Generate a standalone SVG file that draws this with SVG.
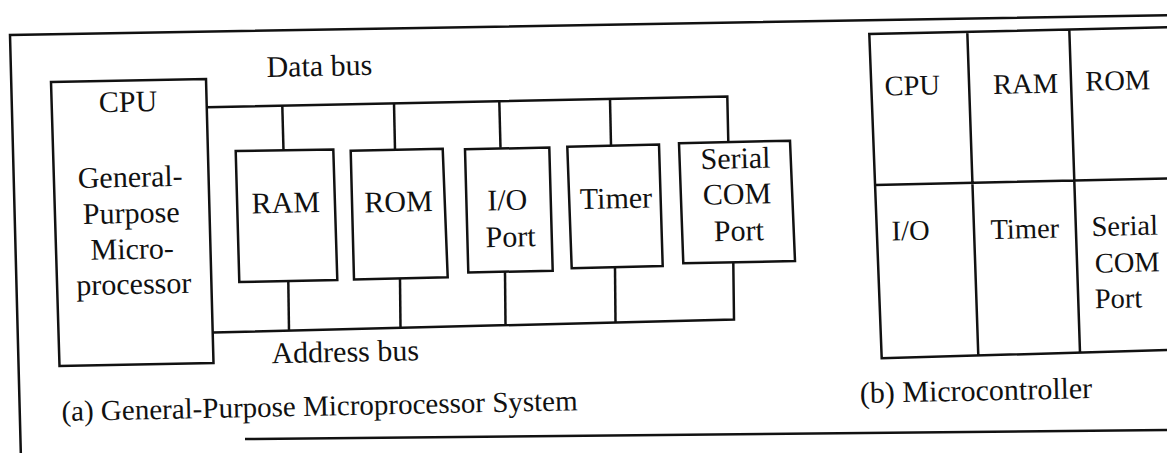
<svg xmlns="http://www.w3.org/2000/svg" width="1167" height="453" viewBox="0 0 1167 453" font-family="'Liberation Serif', 'Times New Roman', serif">
<style>
.ln{fill:none;stroke:#111;stroke-width:2.5;stroke-linejoin:miter}
text{font-family:'Liberation Serif','Times New Roman',serif;font-size:30px;fill:#111}
.c{text-anchor:middle}
.s{font-size:28.5px}
</style>
<rect width="1167" height="453" fill="#fff"/>
<g id="frame">
<polyline class="ln" points="21,460 10,35 1175,15"/>
<line class="ln" x1="245" y1="439" x2="1175" y2="430"/>
</g>
<g id="cpu">
<polygon class="ln" points="51,82 206,79 213.5,363 59.5,366"/>
<text class="c" x="128.3" y="111.7" transform="rotate(-1.2 128.3 111.7)">CPU</text>
<text class="c" x="130.4" y="187" transform="rotate(-1.2 130.4 187)">General-</text>
<text class="c" x="131.4" y="223" transform="rotate(-1.2 131.4 223)">Purpose</text>
<text class="c" x="132.4" y="259" transform="rotate(-1.2 132.4 259)">Micro-</text>
<text class="c" x="134" y="294" transform="rotate(-1.2 134 294)">processor</text>
</g>
<g id="ram">
<polygon class="ln" points="235.7,151 333.3,149.5 337.3,280 239.3,282"/>
<text class="c" x="286" y="212.7" transform="rotate(-1.2 286 212.7)">RAM</text>
</g>
<g id="rom">
<polygon class="ln" points="350.7,150.7 442.7,148.8 447.7,277.3 354,279.5"/>
<text class="c" x="398.7" y="211.7" transform="rotate(-1.2 398.7 211.7)">ROM</text>
</g>
<g id="io">
<polygon class="ln" points="465,149.3 549.3,147.5 552.7,270.7 468.3,272.5"/>
<text class="c" x="507.5" y="210" transform="rotate(-1.2 507.5 210)">I/O</text>
<text class="c" x="510.8" y="246.7" transform="rotate(-1.2 510.8 246.7)">Port</text>
</g>
<g id="timer">
<polygon class="ln" points="567.3,146.7 659,144.5 662.7,266 571.7,268.3"/>
<text class="c" x="616.2" y="208.3" transform="rotate(-1.2 616.2 208.3)">Timer</text>
</g>
<g id="serial">
<polygon class="ln" points="679,143.3 790,140.7 795,261 683.3,263.3"/>
<text class="c" x="735.7" y="168.3" transform="rotate(-1.2 735.7 168.3)">Serial</text>
<text class="c" x="737.3" y="204" transform="rotate(-1.2 737.3 204)">COM</text>
<text class="c" x="739" y="240.7" transform="rotate(-1.2 739 240.7)">Port</text>
</g>
<g id="connectors">
<polyline class="ln" points="206.8,107.3 727.3,96.5 728.3,141.7"/>
<line class="ln" x1="282.3" y1="105.7" x2="283.5" y2="150.5"/>
<line class="ln" x1="394" y1="103.4" x2="395" y2="149.5"/>
<line class="ln" x1="499.3" y1="101.2" x2="500.5" y2="147.8"/>
<line class="ln" x1="610" y1="98.9" x2="611" y2="145.3"/>
<polyline class="ln" points="213,332.5 734,319.5 733.3,262.5"/>
<line class="ln" x1="288.3" y1="281.5" x2="289" y2="330.6"/>
<line class="ln" x1="400" y1="278.8" x2="400.5" y2="327.9"/>
<line class="ln" x1="505" y1="271.8" x2="505.5" y2="325.3"/>
<line class="ln" x1="615" y1="267.6" x2="615.5" y2="322.6"/>
<text x="266.7" y="77" transform="rotate(-1.2 266.7 77)">Data bus</text>
<text x="271.7" y="363.3" transform="rotate(-1.2 271.7 363.3)">Address bus</text>
</g>
<g id="mcu">
<path class="ln" d="M1175,27.1 L869.3,34 L881.7,358.3 L1175,349.8 M875.1,185 L1175,178.2 M967.3,31.9 L978.3,355.5 M1069.3,29.6 L1080,352.6"/>
<g id="mcu-cpu"><text class="c s" x="912.5" y="95" transform="rotate(-1.2 912.5 95)">CPU</text></g>
<g id="mcu-ram"><text class="c s" x="1025.8" y="93.3" transform="rotate(-1.2 1025.8 93.3)">RAM</text></g>
<g id="mcu-rom"><text class="c s" x="1118" y="90" transform="rotate(-1.2 1118 90)">ROM</text></g>
<g id="mcu-io"><text class="c s" x="910.8" y="240" transform="rotate(-1.2 910.8 240)">I/O</text></g>
<g id="mcu-timer"><text class="c s" x="1025" y="238.3" transform="rotate(-1.2 1025 238.3)">Timer</text></g>
<g id="mcu-serial">
<text class="s" x="1091.7" y="236" transform="rotate(-1.2 1091.7 236)">Serial</text>
<text class="s" x="1095" y="272.7" transform="rotate(-1.2 1095 272.7)">COM</text>
<text class="s" x="1095" y="308.3" transform="rotate(-1.2 1095 308.3)">Port</text>
</g>
</g>
<g id="captions">
<text x="61.7" y="421" style="font-size:29px" transform="rotate(-1.2 61.7 421)">(a) General-Purpose Microprocessor System</text>
<text x="860" y="403" transform="rotate(-1.2 860 403)">(b) Microcontroller</text>
</g>
</svg>
